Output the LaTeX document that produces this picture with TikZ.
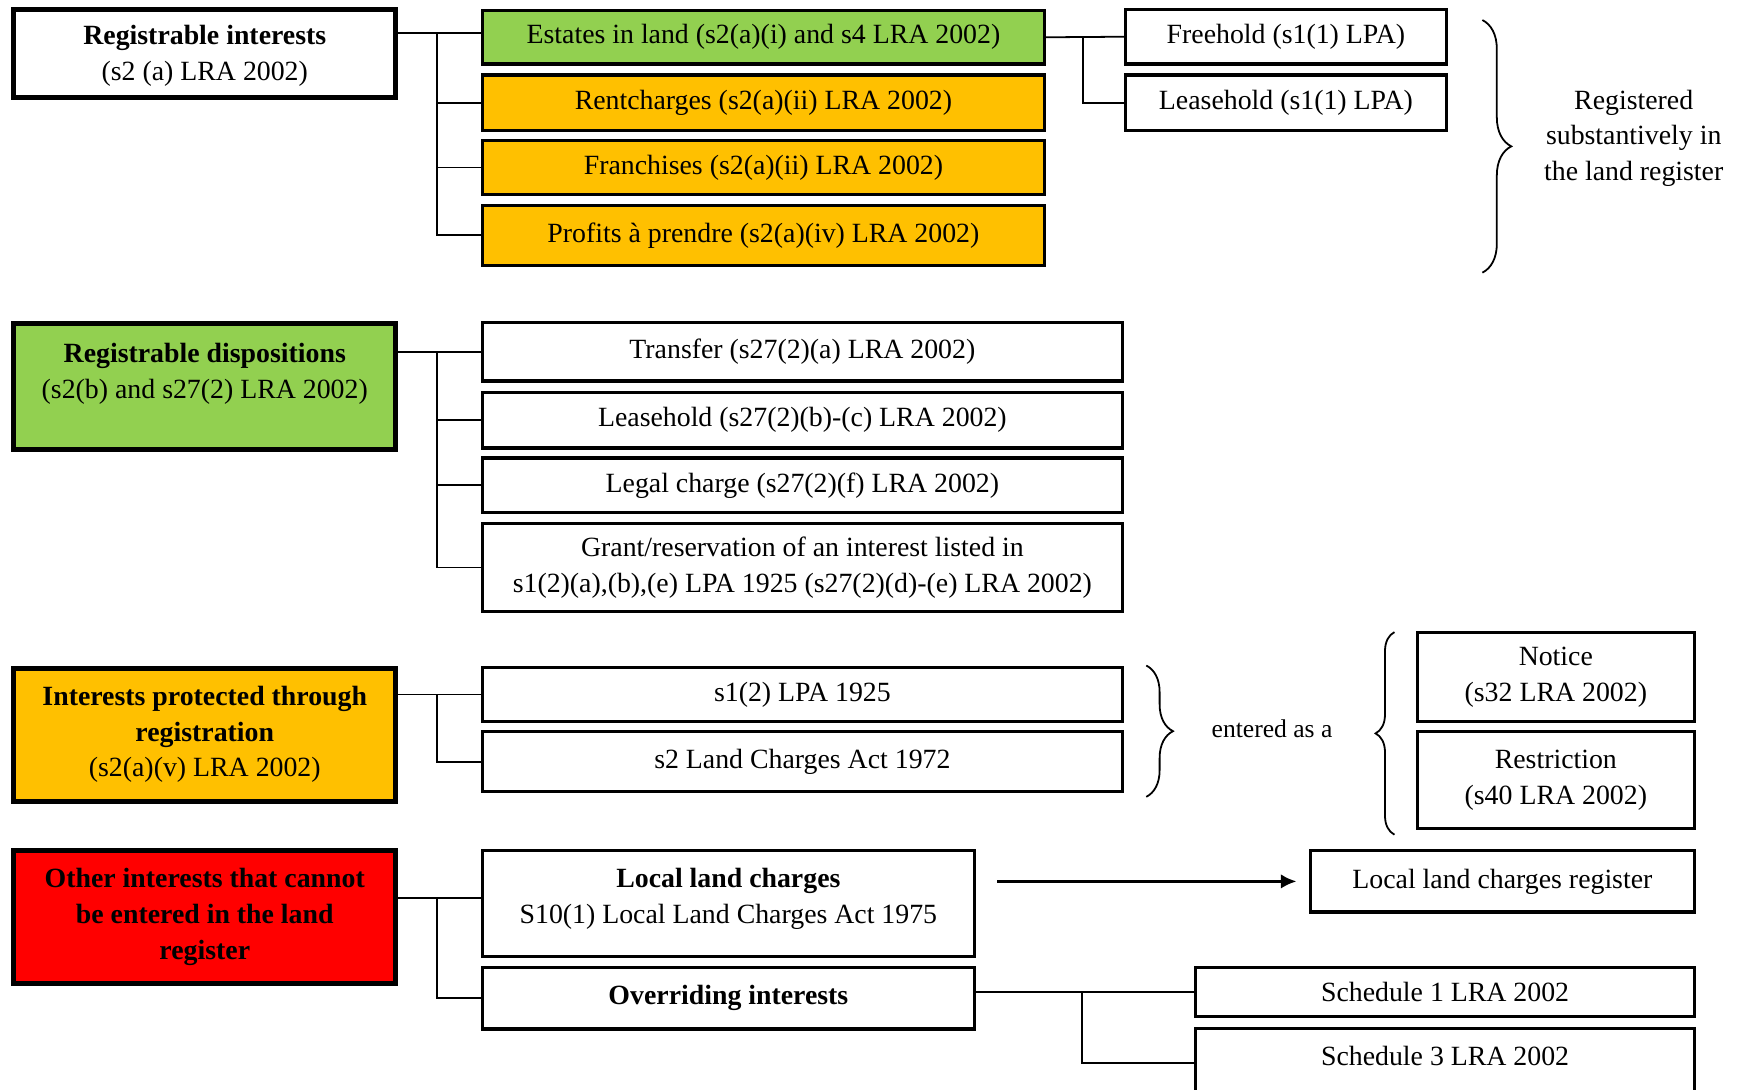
\documentclass[tikz,border=0pt]{standalone}
\usepackage{fontspec}
\setmainfont{Liberation Serif}
\usetikzlibrary{decorations.pathreplacing,arrows.meta}
\definecolor{cgreen}{HTML}{92D050}
\definecolor{corange}{HTML}{FFC000}
\definecolor{cred}{HTML}{FF0000}
\begin{document}
\begin{tikzpicture}[x=1pt,y=-1pt,
  font=\fontsize{25}{32}\selectfont,
  mainbox/.style={draw=black, line width=4.5pt, align=center, inner sep=0pt,
    minimum width=343.5pt, fill=white},
  subbox/.style={draw=black, line width=3pt, align=center, inner sep=0pt, fill=white},
  conn/.style={draw=black, line width=1.6pt},
  bracestyle/.style={draw=black, line width=1.6pt, decorate},
]
\useasboundingbox (0,0) rectangle (1568,979);
\clip (0,0) rectangle (1568,979);

% ---------- group 1 ----------
\node[mainbox, minimum height=79.5pt, text depth=1pt] (ri) at (184,48)
  {\textbf{Registrable interests}\\(s2 (a) LRA 2002)};
\node[subbox, fill=cgreen, minimum width=505pt, minimum height=48pt] (est) at (686,33.5)
  {Estates in land (s2(a)(i) and s4 LRA 2002)};
\node[subbox, fill=corange, minimum width=505pt, minimum height=50pt] (rent) at (686,92.5)
  {Rentcharges (s2(a)(ii) LRA 2002)};
\node[subbox, fill=corange, minimum width=505pt, minimum height=48pt] (fran) at (686,150.5)
  {Franchises (s2(a)(ii) LRA 2002)};
\node[subbox, fill=corange, minimum width=505pt, minimum height=54pt] (prof) at (686,211.5)
  {Profits à prendre (s2(a)(iv) LRA 2002)};
\node[subbox, minimum width=288pt, minimum height=49pt] (free) at (1155.5,33)
  {Freehold (s1(1) LPA)};
\node[subbox, minimum width=288pt, minimum height=50pt] (lease) at (1155.5,92.5)
  {Leasehold (s1(1) LPA)};
\node[align=center] (regtext) at (1468,124)
  {Registered\\substantively in\\the land register};

\coordinate (j1) at (393,0);
\coordinate (j2) at (973,0);
\draw[conn] (ri.east |- est.west) ++(0,-4) -- ([yshift=4pt]est.west);
\draw[conn] ([yshift=4pt]j1 |- est.west) |- (rent.west);
\draw[conn] ([yshift=4pt]j1 |- est.west) |- (fran.west);
\draw[conn] ([yshift=4pt]j1 |- est.west) |- (prof.west);
\draw[conn] (est.east) -- (free.west);
\draw[conn] (j2 |- free.west) |- (lease.west);
\draw[bracestyle, decoration={brace, amplitude=26pt}] (1332,18) -- (1332,245);

% ---------- group 2 ----------
\node[mainbox, fill=cgreen, minimum height=113.5pt] (rd) at (184,347)
  {\textbf{Registrable dispositions}\\(s2(b) and s27(2) LRA 2002)\\[-4pt]\mbox{}};
\node[subbox, minimum width=575pt, minimum height=53pt] (tr) at (721,316)
  {Transfer (s27(2)(a) LRA 2002)};
\node[subbox, minimum width=575pt, minimum height=50pt] (ls) at (721,377.5)
  {Leasehold (s27(2)(b)-(c) LRA 2002)};
\node[subbox, minimum width=575pt, minimum height=49pt] (lc) at (721,436)
  {Legal charge (s27(2)(f) LRA 2002)};
\node[subbox, minimum width=575pt, minimum height=79pt] (gr) at (721,510)
  {Grant/reservation of an interest listed in\\s1(2)(a),(b),(e) LPA 1925 (s27(2)(d)-(e) LRA 2002)};
\draw[conn] (rd.east |- tr.west) -- (tr.west);
\draw[conn] (j1 |- tr.west) |- (ls.west);
\draw[conn] (j1 |- tr.west) |- (lc.west);
\draw[conn] (j1 |- tr.west) |- (gr.west);

% ---------- group 3 ----------
\node[mainbox, fill=corange, minimum height=119.5pt] (ip) at (184,660)
  {\textbf{Interests protected through}\\\textbf{registration}\\(s2(a)(v) LRA 2002)};
\node[subbox, minimum width=575pt, minimum height=49pt] (sa) at (721,624)
  {s1(2) LPA 1925};
\node[subbox, minimum width=575pt, minimum height=54pt] (sb) at (721,684.5)
  {s2 Land Charges Act 1972};
\node[font=\fontsize{23}{28}\selectfont] (ent) at (1143,655) {entered as a};
\node[subbox, minimum width=249pt, minimum height=80pt] (notice) at (1398,608.5)
  {Notice\\(s32 LRA 2002)};
\node[subbox, minimum width=249pt, minimum height=87pt] (restr) at (1398,701)
  {Restriction\\(s40 LRA 2002)};
\draw[conn] (ip.east |- sa.west) -- (sa.west);
\draw[conn] (j1 |- sa.west) |- (sb.west);
\draw[bracestyle, decoration={brace, amplitude=24pt}] (1030,598) -- (1030,716);
\draw[bracestyle, decoration={brace, amplitude=17pt}] (1253,750) -- (1253,568);

% ---------- group 4 ----------
\node[mainbox, fill=cred, minimum height=119.5pt] (oi) at (184,824)
  {\textbf{Other interests that cannot}\\\textbf{be entered in the land}\\\textbf{register}};
\node[subbox, minimum width=442pt, minimum height=95pt] (llc) at (654.5,812)
  {\textbf{Local land charges}\\S10(1) Local Land Charges Act 1975\\[-18pt]\mbox{}};
\node[subbox, minimum width=442pt, minimum height=55pt] (ovr) at (654.5,897)
  {\textbf{Overriding interests}};
\node[subbox, minimum width=345pt, minimum height=55pt] (lreg) at (1350,792)
  {Local land charges register};
\node[subbox, minimum width=448pt, minimum height=44pt] (sch1) at (1298.5,891.5)
  {Schedule 1 LRA 2002};
\node[subbox, minimum width=448pt, minimum height=68pt, text depth=18pt] (sch3) at (1298.5,958)
  {Schedule 3 LRA 2002};
\coordinate (j3) at (972,0);
\draw[conn] (oi.east |- llc.west) ++(0,-5) -- ([yshift=5pt]llc.west);
\draw[conn] ([yshift=5pt]j1 |- llc.west) |- (ovr.west);
\draw[draw=black, line width=2.6pt, -{Latex[length=14pt,width=13pt]}, shorten <=19pt, shorten >=11pt]
  (llc.east |- lreg.west) -- (lreg.west);
\draw[conn] (ovr.east |- sch1.west) -- (sch1.west);
\draw[conn] (j3 |- sch1.west) |- ([yshift=3pt]sch3.west);
\end{tikzpicture}
\end{document}
